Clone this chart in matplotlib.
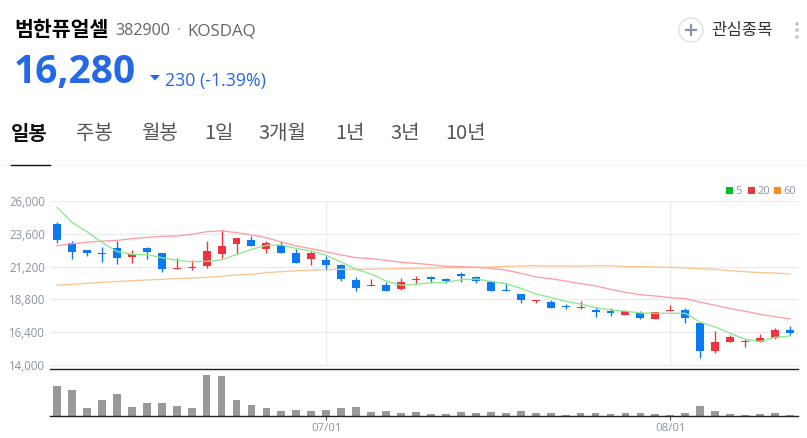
import matplotlib
matplotlib.use("Agg")
import matplotlib.pyplot as plt
from matplotlib.patches import Circle, Rectangle, Polygon

W, H = 807, 438
KR = ['Noto Sans CJK KR', 'DejaVu Sans']
plt.rcParams['font.family'] = KR

opens = [24310,22940,22420,22200,22550,21930,22570,22180,21050,21080,21220,22110,22840,23160,22520,22790,22200,21790,21690,21320,20220,19800,19850,19580,20190,20460,20290,20660,20440,20070,19480,19160,18700,18600,18310,18160,17990,17920,17650,17790,17380,17920,17990,17030,15020,15690,15660,15690,15960,16540]
highs = [24480,23060,22420,22670,23080,22450,22640,22200,21810,21660,23080,23890,23300,23480,23080,23060,22500,22320,21960,21390,20410,20270,20100,20340,20490,20510,20340,20780,20490,20100,19970,19190,18770,18750,18450,18670,18210,18160,18010,17920,17870,18360,18160,17130,16470,16200,15910,16250,16690,16810]
lows = [22960,21740,22010,21560,21420,21490,21740,20830,21000,20980,21080,21840,22100,22720,22200,22230,21440,21320,20980,20120,19380,19800,19430,19510,19920,20020,20000,20100,19970,19380,19380,18500,18500,18180,18090,18060,17520,17570,17640,17380,17380,17920,17080,14460,14830,15680,15320,15640,15880,16180]
closes = [23160,22300,22230,22100,21840,22100,22300,21000,21100,21150,22350,22720,23280,22740,22910,22230,21490,22200,21340,20270,19630,19850,19430,20070,20290,20320,20170,20540,20140,19430,19410,18770,18750,18180,18210,18260,17890,17790,17920,17420,17840,17990,17420,15020,15640,16030,15730,15930,16540,16350]
ma5 = [25560,24460,23770,22990,22320,22100,22100,21860,21660,21560,21590,21690,22100,22470,22770,22790,22540,22350,22030,21540,21000,20660,20140,19830,19900,20020,20050,20240,20290,20120,19950,19610,19190,18940,18650,18450,18180,18010,17920,17790,17770,17770,17770,17110,16760,16300,15860,15690,16000,16100]
ma20 = [22740,22890,22990,23080,23130,23260,23350,23430,23450,23580,23770,23840,23700,23530,23330,23010,22720,22520,22280,22060,21860,21790,21660,21520,21440,21340,21220,21200,21150,21080,20950,20710,20440,20320,20140,19950,19780,19530,19310,19140,19040,18920,18850,18580,18360,18110,17920,17690,17520,17350]
ma60 = [19830,19900,19970,20050,20100,20170,20220,20270,20320,20360,20410,20490,20590,20640,20760,20830,20900,20950,20980,21000,21000,21000,21030,21050,21080,21100,21120,21120,21150,21170,21220,21250,21270,21250,21250,21250,21270,21270,21200,21200,21170,21150,21100,21050,21000,20900,20830,20760,20730,20660]
volumes = [91,79,25,50,67,28,40,40,31,25,124,120,50,34,24,15,19,15,19,24,28,13,15,9,13,7,7,13,10,13,10,15,10,10,5,10,10,7,10,10,7,5,10,30,16,7,5,7,10,5]
price_ticks = [26000,23600,21200,18800,16400,14000]
date_idx = [18,41]
date_labels = ['07/01','08/01']
tabs = ['일봉','주봉','월봉','1일','3개월','1년','3년','10년']
tab_x = [11,76,141,204,258,335,390,445]
legend_labels = ['5','20','60']
legend_colors = ['#00c21f','#f5333f','#ff8a1f']
legend_x = [726,748,774]

BLUE, RED = '#0a7af0', '#f0323c'
GRID, TXT = '#e9ebef', '#8b93a0'
OPEN = ['Open Sans', 'DejaVu Sans']
OPENKR = ['Open Sans'] + KR

fig = plt.figure(figsize=(W/100, H/100), dpi=100, facecolor='white')

def make_axes(x0, y0, x1, y1):
    return fig.add_axes([x0/W, 1-y1/H, (x1-x0)/W, (y1-y0)/H])

ax = make_axes(49.5, 201, 797.5, 369.4)
PX = 2400/32.65
ymin = 14000-(369.4-364.5)*PX
ax.set_xlim(-0.5, 49.5)
ax.set_ylim(ymin, 26000+0.4*PX)
for s in ('top','left','right'):
    ax.spines[s].set_visible(False)
ax.spines['bottom'].set_color('#222222')
ax.spines['bottom'].set_linewidth(1.0)
ax.set_xticks([])
ax.set_yticks(price_ticks)
ax.set_yticklabels([f'{v:,}' for v in price_ticks], fontsize=8.3, color=TXT, family=OPEN)
ax.tick_params(axis='y', length=0, pad=3)
ax.hlines(price_ticks, -0.5, 49.5, color=GRID, lw=0.9, zorder=1)
ax.vlines(date_idx, 14000, 26000, color=GRID, lw=0.9, zorder=1)

xs = list(range(len(opens)))
for x, o, h, l, c in zip(xs, opens, highs, lows, closes):
    col = RED if c >= o else BLUE
    ax.vlines(x, l, h, color=col, lw=1.0, zorder=3)
    top, bot = max(o, c), min(o, c)
    ax.bar(x, max(top-bot, 30), bottom=bot, width=0.53, color=col, lw=0, zorder=3)
ax.plot(xs, ma60, color='#fbc592', lw=0.95, zorder=4)
ax.plot(xs, ma20, color='#ff9da4', lw=0.95, zorder=4)
ax.plot(xs, ma5, color='#8ee88e', lw=0.95, zorder=4)

vax = make_axes(49.5, 370, 797.5, 416.3)
vax.set_xlim(-0.5, 49.5)
vax.set_ylim(0, 139)
vax.patch.set_alpha(0)
vax.bar(xs, volumes, width=0.52, color='#999999', lw=0)
for s in ('top','left','right'):
    vax.spines[s].set_visible(False)
vax.spines['bottom'].set_color('#222222')
vax.spines['bottom'].set_linewidth(1.0)
vax.set_yticks([])
vax.set_xticks(date_idx)
vax.set_xticklabels(date_labels, fontsize=8.2, color=TXT, family=OPEN)
vax.tick_params(axis='x', length=3, width=0.8, color='#555555', pad=2)

ui = fig.add_axes([0, 0, 1, 1], zorder=5)
ui.set_xlim(0, W)
ui.set_ylim(H, 0)
ui.axis('off')
ui.patch.set_alpha(0)

ui.text(14, 29.5, '범한퓨얼셀', fontsize=14.8, fontweight='bold', color='black', va='center')
ui.text(115.5, 31, '382900', fontsize=11.6, color='#666666', va='center', family=OPENKR)
ui.text(177, 30, '·', fontsize=11, color='#999999', va='center', family=OPENKR)
ui.text(187.5, 31, 'KOSDAQ', fontsize=12.2, color='#666666', va='center', family=OPENKR)
ui.text(14, 72, '16,280', fontsize=28, fontweight='bold', color='#2468e6', va='center', family=OPENKR)
ui.add_patch(Polygon([(150,75),(160,75),(155,80.5)], closed=True, color='#2468e6', lw=0))
ui.text(165, 81, '230 (-1.39%)', fontsize=12.8, color='#2468e6', va='center', family=OPENKR)

for i, (t, x) in enumerate(zip(tabs, tab_x)):
    ui.text(x, 133.5, t, fontsize=14.4, va='center',
            color='#111111' if i == 0 else '#555555',
            fontweight='bold' if i == 0 else 'normal')
ui.plot([0, W], [165, 165], color='#f1f2f4', lw=0.9)
ui.plot([11, 50], [165, 165], color='#111111', lw=1.0)

ui.add_patch(Circle((691, 30), 12, fc='white', ec='#dfe1e8', lw=1.0))
ui.plot([686, 696], [30, 30], color='#8a94a6', lw=1.6)
ui.plot([691, 691], [25, 35], color='#8a94a6', lw=1.6)
ui.text(711, 30, '관심종목', fontsize=12, color='#333333', va='center')
for y in (24, 30, 37):
    ui.add_patch(Circle((797, y), 2, fc='#c8cad2', ec='none'))

for lab, col, x in zip(legend_labels, legend_colors, legend_x):
    ui.add_patch(Rectangle((x, 187.3), 7, 7, fc=col, ec='none'))
    ui.text(x+9.5, 191, lab, fontsize=8, color=TXT, va='center', family=OPEN)

fig.savefig('out.png', dpi=100, facecolor='white')
